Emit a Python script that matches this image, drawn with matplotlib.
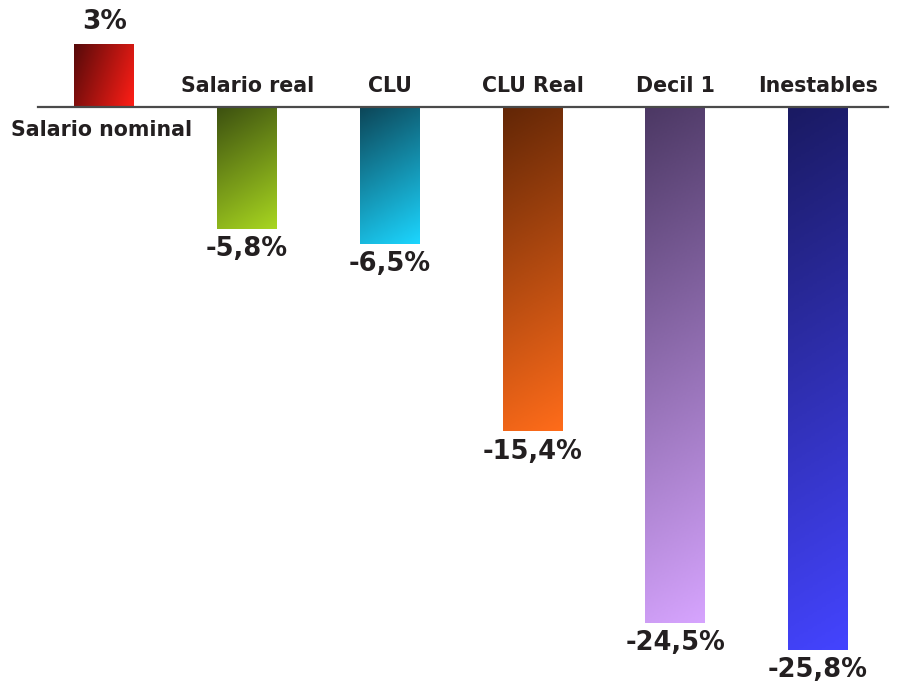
import numpy as np
import matplotlib
matplotlib.use("Agg")
import matplotlib.pyplot as plt
from matplotlib.colors import LinearSegmentedColormap
from matplotlib.patches import Rectangle

categorias = ["Salario nominal", "Salario real", "CLU", "CLU Real", "Decil 1", "Inestables"]
valores = [3, -5.8, -6.5, -15.4, -24.5, -25.8]
etiquetas = ["3%", "-5,8%", "-6,5%", "-15,4%", "-24,5%", "-25,8%"]

# colores: (esquina superior izquierda oscura, esquina inferior derecha clara)
colores = [("#560a0a", "#ff1e16"),
           ("#3c5010", "#a8d620"),
           ("#0c4658", "#1cd6ff"),
           ("#622606", "#ff6c1a"),
           ("#4c3864", "#d6a4fe"),
           ("#1a1a62", "#4444ff")]

plt.rcParams['font.family'] = ['DejaVu Sans']
texto = "#231f20"

fig = plt.figure(figsize=(8.97, 6.85), dpi=100)
ax = fig.add_axes([0, 0, 1, 1])
ax.set_xlim(-0.732, 5.554)
ax.set_ylim(-27.46, 5.083)
ax.axis("off")

ancho = 0.42
x = np.arange(len(valores))

for i, v in enumerate(valores):
    x0 = x[i] - ancho / 2
    y0, y1 = min(0, v), max(0, v)
    cmap = LinearSegmentedColormap.from_list("g%d" % i, colores[i])
    # gradiente diagonal en pixeles
    w_px = ancho * 142.7
    h_px = abs(v) * 21.05
    xx, yy = np.meshgrid(np.linspace(0, w_px, 60), np.linspace(0, h_px, 200))
    if i == 0:
        t = (xx * 1.0 + yy * 0.35)
    else:
        t = (xx * 0.6 + yy * 1.0)
    t = (t - t.min()) / (t.max() - t.min())
    rect = Rectangle((x0, y0), ancho, y1 - y0, facecolor="none", edgecolor="none")
    ax.add_patch(rect)
    im = ax.imshow(t, cmap=cmap, extent=(x0, x0 + ancho, y0, y1),
                   origin="upper", aspect="auto", interpolation="bilinear", zorder=2)
    im.set_clip_path(rect)

    if v > 0:
        ax.text(x[i], v + 0.4, etiquetas[i], ha="center", va="bottom",
                fontsize=19, fontweight="bold", color=texto)
    else:
        ax.text(x[i], v - 1.3, etiquetas[i], ha="center", va="baseline",
                fontsize=18.5, fontweight="bold", color=texto)

# etiquetas de categoria
for i, c in enumerate(categorias):
    if i == 0:
        ax.text(x[i] - 0.02, -1.1, c, ha="center", va="center",
                fontsize=14.8, fontweight="bold", color=texto)
    else:
        ax.text(x[i], 1.0, c, ha="center", va="center",
                fontsize=14.8, fontweight="bold", color=texto)

ax.plot([-0.466, 5.49], [0, 0], color="#4a4a4a", lw=1.6, zorder=3)

fig.savefig("out.png", dpi=100)
